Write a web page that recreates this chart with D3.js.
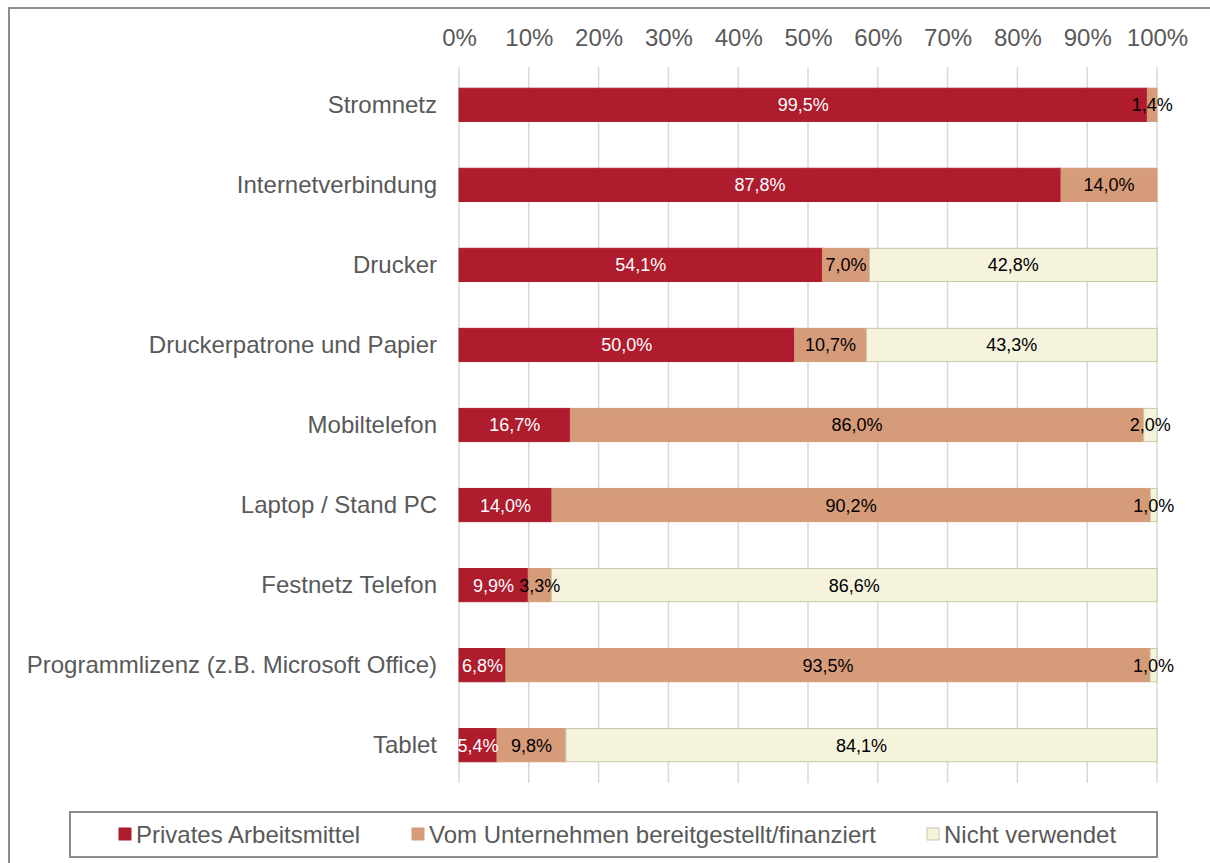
<!DOCTYPE html>
<html><head><meta charset="utf-8">
<script src="https://cdn.jsdelivr.net/npm/d3@7"></script>
<style>body{margin:0;background:#fff;}svg{display:block;font-family:"Liberation Sans",Arial,sans-serif;}</style>
</head><body>
<script>
const categories = ["Stromnetz","Internetverbindung","Drucker","Druckerpatrone und Papier","Mobiltelefon","Laptop / Stand PC","Festnetz Telefon","Programmlizenz (z.B. Microsoft Office)","Tablet"];
const seriesNames = ["Privates Arbeitsmittel","Vom Unternehmen bereitgestellt/finanziert","Nicht verwendet"];
const privates = [99.5, 87.8, 54.1, 50.0, 16.7, 14.0, 9.9, 6.8, 5.4];
const unternehmen = [1.4, 14.0, 7.0, 10.7, 86.0, 90.2, 3.3, 93.5, 9.8];
const nicht = [0, 0, 42.8, 43.3, 2.0, 1.0, 86.6, 1.0, 84.1];
const tickLabels = ["0%","10%","20%","30%","40%","50%","60%","70%","80%","90%","100%"];
const colors = ["#AE1C2D","#D69B79","#F5F3DC"];
const strokes = ["#AE1C2D","#D69B79","#C9C6A8"];
const textColors = ["#fff","#000","#000"];

const W = 1210, H = 863;
const svg = d3.select("body").append("svg").attr("width", W).attr("height", H);

// outer frame
svg.append("rect").attr("x",9).attr("y",8).attr("width",W+10).attr("height",H+10)
  .attr("fill","none").attr("stroke","#8c8c8c").attr("stroke-width",2);

const x = d3.scaleLinear().domain([0,1]).range([459,1157]);
const y = d3.scaleBand().domain(categories).range([65,785]).paddingInner(0.585).paddingOuter(0.29);

// gridlines
const tickVals = d3.range(0, 1.0001, 0.1);
svg.append("g").selectAll("line").data(tickVals).join("line")
  .attr("x1", d=>x(d)).attr("x2", d=>x(d)).attr("y1", 67).attr("y2", 783)
  .attr("stroke","#d9d9d9").attr("stroke-width",1.5);

// top axis labels
const xAxis = d3.axisTop(x).tickValues(tickVals).tickFormat((d,i)=>tickLabels[i]).tickSize(0).tickPadding(0);
const gx = svg.append("g").attr("transform","translate(0,46)").call(xAxis);
gx.select(".domain").remove();
gx.selectAll("text").attr("font-size",24).attr("fill","#595959").attr("font-family","Liberation Sans, Arial, sans-serif");

// category labels
const yAxis = d3.axisLeft(y).tickSize(0).tickPadding(22);
const gy = svg.append("g").attr("transform","translate(459,0)").call(yAxis);
gy.select(".domain").remove();
gy.selectAll("text").attr("font-size",24).attr("fill","#595959").attr("font-family","Liberation Sans, Arial, sans-serif");

// data
const rows = categories.map((c,i)=>({cat:c, v:[privates[i], unternehmen[i], nicht[i]]}));
const fmt = v => v.toFixed(1).replace(".", ",") + "%";
rows.forEach(r=>{
  const total = d3.sum(r.v);
  let acc = 0;
  r.segs = r.v.map((v,k)=>{ const s={k, v, x0:acc/total, x1:(acc+v)/total}; acc+=v; return s; });
});

const gBars = svg.append("g");
rows.forEach(r=>{
  const g = gBars.append("g");
  const segs = r.segs.filter(s=>s.v>0);
  g.selectAll("rect").data(segs).join("rect")
    .attr("x", s=>x(s.x0)).attr("width", s=>x(s.x1)-x(s.x0))
    .attr("y", y(r.cat)).attr("height", y.bandwidth())
    .attr("fill", s=>colors[s.k]).attr("stroke", s=>strokes[s.k]).attr("stroke-width",1);
  g.selectAll("text").data(segs).join("text")
    .attr("x", s=>(x(s.x0)+x(s.x1))/2).attr("y", y(r.cat)+y.bandwidth()/2)
    .attr("dy","0.36em").attr("text-anchor","middle")
    .attr("font-size",18).attr("fill", s=>textColors[s.k])
    .text(s=>fmt(s.v));
});

// legend
svg.append("rect").attr("x",70).attr("y",812).attr("width",1087).attr("height",45)
  .attr("fill","#fff").attr("stroke","#8c8c8c").attr("stroke-width",2);
const legX = [119, 412, 927];
const lg = svg.append("g");
seriesNames.forEach((n,k)=>{
  lg.append("rect").attr("x",legX[k]).attr("y",828).attr("width",12).attr("height",12)
    .attr("fill",colors[k]).attr("stroke",strokes[k]).attr("stroke-width",1);
  lg.append("text").attr("x",legX[k]+17).attr("y",834).attr("dy","0.36em")
    .attr("font-size",24).attr("fill","#595959").text(n);
});
</script>
</body></html>
